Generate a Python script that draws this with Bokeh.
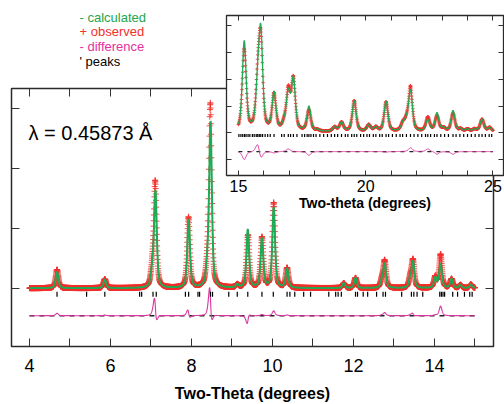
import numpy as np
from bokeh.plotting import figure
from bokeh.models import Range1d, LinearAxis, Label, FixedTicker, ColumnDataSource
from bokeh.layouts import column
from bokeh.embed import file_html
from bokeh.resources import INLINE
from bokeh.core.properties import value

# ---------------- data: main pattern (4-15 deg) ----------------
main_two_theta_start = 4.0
main_two_theta_end = 15.0
main_step = 0.004
main_peak_pos = [4.68, 5.86, 7.03, 7.11, 7.93, 8.39, 8.47, 9.13, 9.39, 9.74, 10.03,
                 10.36, 11.76, 12.05, 12.70, 12.77, 13.40, 13.47, 14.02, 14.15,
                 14.42, 14.64, 14.90]
main_calc_height = [0.27, 0.14, 0.24, 1.60, 1.13, 0.26, 2.75, 0.05, 0.97, 0.82, 1.34,
                    0.32, 0.08, 0.17, 0.11, 0.40, 0.14, 0.43, 0.17, 0.40,
                    0.15, 0.05, 0.06]
main_obs_height = [0.31, 0.15, 0.26, 1.76, 1.18, 0.27, 3.05, 0.05, 0.88, 0.84, 1.42,
                   0.33, 0.08, 0.17, 0.12, 0.45, 0.15, 0.46, 0.18, 0.56,
                   0.15, 0.05, 0.06]
main_obs_shift = [0.0, 0.0, 0.0, -0.006, -0.003, 0.0, -0.005, 0.0, 0.004, 0.0, 0.0,
                  0.0, 0.0, 0.0, 0.0, 0.0, 0.0, -0.002, 0.0, 0.0,
                  0.0, 0.0, 0.0]
main_fwhm = 0.08
main_reflections = [4.68, 5.41, 5.86, 6.72, 6.77, 7.05, 7.13, 7.85, 7.93, 8.16, 8.20,
                    8.47, 8.52, 8.92, 9.13, 9.39, 9.74, 10.02, 10.36, 10.43, 10.55,
                    10.77, 10.94, 11.39, 11.56, 11.62, 11.70, 12.05, 12.10, 12.24,
                    12.35, 12.57, 12.73, 12.79, 13.19, 13.43, 13.49, 13.57, 13.71,
                    14.13, 14.17, 14.21, 14.25, 14.45, 14.57, 14.74, 14.87, 14.93]
main_diff_offset = -0.46
main_reflection_level = -0.1
main_x_ticks = [4, 6, 8, 10, 12, 14]
main_x_minor = [5, 7, 9, 11, 13, 15]
main_y_ticks = [-1, 0, 1, 2, 3]

# ---------------- data: inset pattern (15-25 deg) ----------------
inset_two_theta_start = 15.0
inset_two_theta_end = 25.0
inset_step = 0.01
inset_peak_pos = [15.23, 15.76, 15.88, 16.40, 16.80, 16.96, 17.16, 17.77, 18.10, 18.78,
                  19.05, 19.55, 20.12, 20.40, 20.80, 21.46, 21.60, 21.76, 22.44, 22.80,
                  23.06, 23.43, 23.73, 24.00, 24.27, 24.57, 24.87]
inset_calc_height = [3.35, 1.40, 3.50, 1.40, 0.22, 1.35, 1.90, 0.92, 0.05, 0.16,
                     0.34, 1.15, 0.24, 0.15, 1.12, 0.26, 0.30, 1.50, 0.42, 0.68,
                     0.12, 0.78, 0.09, 0.09, 0.09, 0.46, 0.15]
inset_obs_height = [3.05, 1.75, 3.20, 1.35, 0.22, 1.45, 1.90, 0.78, 0.05, 0.16,
                    0.34, 1.15, 0.24, 0.15, 1.10, 0.26, 0.30, 1.64, 0.52, 0.58,
                    0.12, 0.68, 0.09, 0.09, 0.09, 0.46, 0.15]
inset_background = 0.03
inset_fwhm = 0.18
inset_reflections = [15.02, 15.10, 15.17, 15.24, 15.30, 15.38, 15.45, 15.55, 15.62, 15.70,
                     15.76, 15.82, 15.88, 15.95, 16.05, 16.15, 16.25, 16.40, 16.70, 16.80,
                     16.96, 17.05, 17.16, 17.30, 17.50, 17.60, 17.70, 17.77, 17.85, 17.95,
                     18.05, 18.20, 18.35, 18.50, 18.65, 18.78, 18.90, 19.05, 19.20, 19.30,
                     19.45, 19.55, 19.65, 19.80, 19.92, 20.05, 20.15, 20.30, 20.40, 20.55,
                     20.65, 20.80, 20.90, 21.05, 21.20, 21.35, 21.45, 21.60, 21.76, 21.90,
                     22.05, 22.20, 22.35, 22.44, 22.55, 22.70, 22.80, 22.95, 23.10, 23.25,
                     23.43, 23.55, 23.70, 23.85, 24.00, 24.15, 24.30, 24.45, 24.57, 24.70,
                     24.85, 24.95]
inset_diff_offset = -0.70
inset_reflection_level = -0.1
inset_x_ticks = [15, 20, 25]
inset_x_minor = [16, 17, 18, 19, 21, 22, 23, 24]
inset_y_ticks = [-1, 0, 1, 2, 3, 4]

# ---------------- legend texts ----------------
legend_texts = ["- calculated", "+ observed", "- difference", "' peaks"]
legend_colors = ["#22a64e", "#f2302c", "#e6309e", "black"]
legend_baselines = [17.0, 30.5, 46.0, 61.0]

GREEN = "#1faa55"
RED = "#f2302c"
MAGENTA = "#d9369f"
FONT = "Liberation Sans"


def pattern(x, pos, height, fwhm, shift=None, eta=0.55):
    pos = np.asarray(pos, float)
    if shift is not None:
        pos = pos + np.asarray(shift, float)
    d = (x[:, None] - pos[None, :]) / (fwhm / 2.0)
    shape = eta / (1.0 + d ** 2) + (1 - eta) * np.exp(-np.log(2) * d ** 2)
    return (shape * np.asarray(height, float)[None, :]).sum(axis=1)


def style_axes(axes, ticklen):
    for ax in axes:
        ax.axis_line_color = None
        ax.major_tick_in = ticklen
        ax.major_tick_out = 0
        ax.minor_tick_in = ticklen
        ax.minor_tick_out = 0
        ax.major_tick_line_color = "#333333"
        ax.minor_tick_line_color = "#333333"


def blank_labels(ax, ticks):
    ax.major_label_overrides = {t: "" for t in ticks}
    ax.major_label_text_font_size = "1px"
    ax.major_label_standoff = 0


# ---------------- main figure ----------------
mx = np.round(np.arange(main_two_theta_start, main_two_theta_end + 1e-9, main_step), 4)
m_calc = pattern(mx, main_peak_pos, main_calc_height, main_fwhm)
m_obs = pattern(mx, main_peak_pos, main_obs_height, main_fwhm, main_obs_shift)
msrc = ColumnDataSource(dict(x=mx, calc=m_calc, obs=m_obs,
                             diff=m_obs - m_calc + main_diff_offset))

p = figure(width=504, height=404, x_range=Range1d(3.556, 15.457),
           y_range=Range1d(-0.975, 3.339), output_backend="svg",
           toolbar_location=None, min_border_left=11, min_border_right=11,
           min_border_top=88, min_border_bottom=55, background_fill_color="white",
           border_fill_color="white")
p.grid.visible = False
p.outline_line_color = "#2a2a2a"
p.outline_line_width = 1.5

xax = p.xaxis[0]
xax.ticker = FixedTicker(ticks=main_x_ticks, minor_ticks=main_x_minor)
xax.major_label_text_font = FONT
xax.major_label_text_font_size = "18px"
xax.major_label_text_color = "black"
xax.major_label_standoff = 12
xax.axis_label = "Two-Theta (degrees)"
xax.axis_label_text_font = FONT
xax.axis_label_text_font_style = "bold"
xax.axis_label_text_font_size = "16px"
xax.axis_label_text_color = "black"
xax.axis_label_standoff = 10

yax = p.yaxis[0]
yax.ticker = FixedTicker(ticks=main_y_ticks, minor_ticks=[])
blank_labels(yax, main_y_ticks)

top_ax = LinearAxis(ticker=FixedTicker(ticks=main_x_ticks, minor_ticks=main_x_minor))
blank_labels(top_ax, main_x_ticks)
right_ax = LinearAxis(ticker=FixedTicker(ticks=main_y_ticks, minor_ticks=[]))
blank_labels(right_ax, main_y_ticks)
p.add_layout(top_ax, "above")
p.add_layout(right_ax, "right")
style_axes([xax, yax, top_ax, right_ax], 8)

p.line(x=[main_two_theta_start, main_two_theta_end],
       y=[main_diff_offset, main_diff_offset], line_color="#222222",
       line_width=1.6, line_dash="5 5")
p.line("x", "diff", source=msrc, line_color=MAGENTA, line_width=1.1)
p.scatter(main_reflections, [main_reflection_level] * len(main_reflections),
          marker="dash", angle=np.pi / 2, size=5, line_color="black", line_width=1.2)
p.scatter("x", "obs", source=msrc, marker="cross", size=6, line_color=RED,
          line_width=1, line_alpha=0.85)
p.line("x", "calc", source=msrc, line_color=GREEN, line_width=2)

p.add_layout(Label(x=3.975, y=2.595, text="λ = 0.45873 Å", text_font=FONT,
                   text_font_size="20px", text_baseline="middle", text_color="black"))

# ---------------- inset figure ----------------
ix = np.round(np.arange(inset_two_theta_start, inset_two_theta_end + 1e-9, inset_step), 4)
i_calc = pattern(ix, inset_peak_pos, inset_calc_height, inset_fwhm) + inset_background
i_obs = pattern(ix, inset_peak_pos, inset_obs_height, inset_fwhm) + inset_background
isrc = ColumnDataSource(dict(x=ix, calc=i_calc, obs=i_obs,
                             diff=i_obs - i_calc + inset_diff_offset))

q = figure(width=299, height=215, x_range=Range1d(14.533, 25.413),
           y_range=Range1d(-1.593, 4.377), output_backend="svg", toolbar_location=None,
           min_border_left=5, min_border_right=2, min_border_top=15, min_border_bottom=40,
           background_fill_color="white", border_fill_color=None,
           styles={"position": "absolute", "left": "215px", "top": "0px"})
q.grid.visible = False
q.outline_line_color = "#2a2a2a"
q.outline_line_width = 1.3
qx = q.xaxis[0]
qx.ticker = FixedTicker(ticks=inset_x_ticks, minor_ticks=inset_x_minor)
qx.major_label_text_font = FONT
qx.major_label_text_font_size = "16px"
qx.major_label_text_color = "black"
qx.major_label_standoff = 4
qx.axis_label = "Two-theta (degrees)"
qx.axis_label_text_font = FONT
qx.axis_label_text_font_style = "bold"
qx.axis_label_text_font_size = "14px"
qx.axis_label_text_color = "black"
qx.axis_label_standoff = 0
qy = q.yaxis[0]
qy.ticker = FixedTicker(ticks=inset_y_ticks, minor_ticks=[])
blank_labels(qy, inset_y_ticks)
q_top = LinearAxis(ticker=FixedTicker(ticks=inset_x_ticks, minor_ticks=inset_x_minor))
blank_labels(q_top, inset_x_ticks)
q_right = LinearAxis(ticker=FixedTicker(ticks=inset_y_ticks, minor_ticks=[]))
blank_labels(q_right, inset_y_ticks)
q.add_layout(q_top, "above")
q.add_layout(q_right, "right")
style_axes([qx, qy, q_top, q_right], 5)

q.line(x=[inset_two_theta_start, inset_two_theta_end],
       y=[inset_diff_offset, inset_diff_offset], line_color="#222222",
       line_width=1.2, line_dash="4 5")
q.line("x", "diff", source=isrc, line_color=MAGENTA, line_width=1)
q.scatter(inset_reflections, [inset_reflection_level] * len(inset_reflections),
          marker="dash", angle=np.pi / 2, size=3, line_color="black", line_width=1.2)
q.scatter("x", "obs", source=isrc, marker="cross", size=3.5, line_color=RED,
          line_width=1, line_alpha=0.85)
q.line("x", "calc", source=isrc, line_color=GREEN, line_width=1.3)

# ---------------- legend block (top left) ----------------
lg = figure(width=120, height=92, x_range=Range1d(0, 100), y_range=Range1d(72, 0),
            output_backend="svg", toolbar_location=None, min_border_left=0,
            min_border_right=0, min_border_top=10, min_border_bottom=10,
            x_axis_location=None, y_axis_location=None,
            background_fill_color=None, border_fill_color=None, outline_line_color=None,
            styles={"position": "absolute", "left": "68px", "top": "-10px"})
lg.grid.visible = False
lg.text(x=[0] * len(legend_texts), y=legend_baselines, text=legend_texts,
        text_color=legend_colors, text_font=value(FONT), text_font_size="13px",
        text_baseline="alphabetic")

layout = column(p, q, lg, styles={"position": "relative"})
open("out.html", "w").write(file_html(layout, INLINE))
